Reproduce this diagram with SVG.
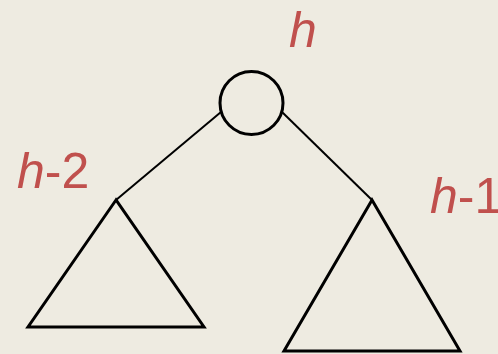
<svg xmlns="http://www.w3.org/2000/svg" width="498" height="354" viewBox="0 0 498 354">
<style>
.lbl{font-family:"Liberation Sans",Arial,sans-serif;font-size:50px;fill:#c0504d}
.it{font-style:italic}
.shape{fill:none;stroke:#000;stroke-width:3;stroke-linejoin:miter}
.edge{stroke:#000;stroke-width:2;fill:none}
</style>
<rect width="498" height="354" fill="#eeebe1"/>
<g id="connectors">
<line class="edge" x1="221" y1="112" x2="116" y2="200"/>
<line class="edge" x1="282" y1="112" x2="372" y2="200"/>
</g>
<g id="root">
<circle class="shape" cx="251.5" cy="103" r="31.5"/>
<text class="lbl it" x="289" y="47">h</text>
</g>
<g id="left">
<polygon class="shape" points="116,200 28,327 204,327"/>
<text class="lbl" x="17" y="188"><tspan class="it">h</tspan>-2</text>
</g>
<g id="right">
<polygon class="shape" points="372,200 284,351 460,351"/>
<text class="lbl" x="430" y="213"><tspan class="it">h</tspan>-1</text>
</g>
</svg>
